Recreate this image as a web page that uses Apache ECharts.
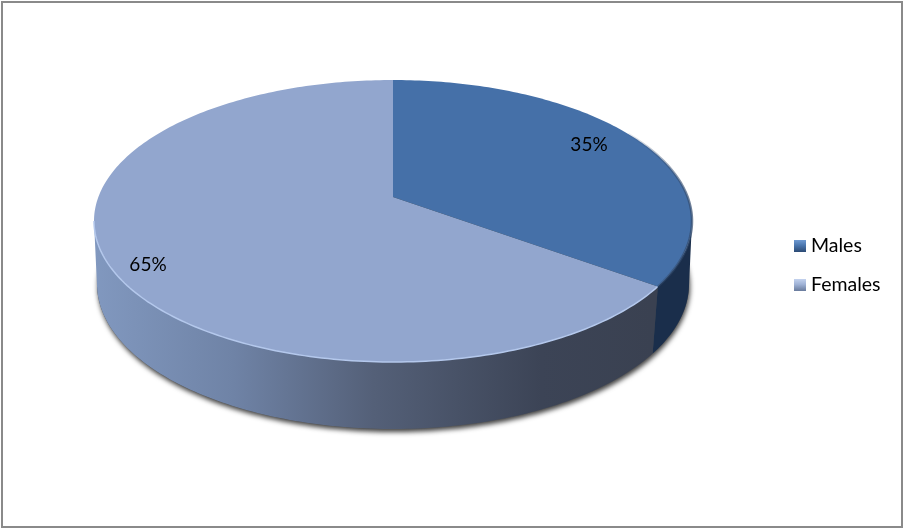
<!DOCTYPE html>
<html>
<head>
<meta charset="utf-8">
<style>html,body{margin:0;padding:0;background:#fff}#c{width:904px;height:529px}</style>
<script src="https://cdn.jsdelivr.net/npm/echarts@6/dist/echarts.min.js"></script>
</head>
<body>
<div id="c"></div>
<script>
var categories = ['Males', 'Females'];
var values = [35, 65];

var FONT = 'Lato';
var TOTAL = values[0] + values[1];
var CX = 393;
var TOP = {cy: 221, rx: 299, ry: 141, persp: 0.17};   // apex sits above the ellipse centre
var BOT = {cy: 284, rx: 296, ry: 145, persp: 0.15};
var SIDE_FROM = Math.acos(-TOP.persp) * 180 / Math.PI, SIDE_TO = 360 - SIDE_FROM;
var LABEL_AT = {Males: [589, 145], Females: [148, 265]};
var TOP_COLOR = {Males: '#4570a8', Females: '#92a6ce'};

function project(deg, e, r) {
  var t = deg * Math.PI / 180, k = r === undefined ? 1 : r, a = e.persp;
  var u = Math.sin(t) * k, v = -Math.cos(t) * k, w = 1 - a * v;
  return [CX + e.rx * Math.sqrt(1 - a * a) * u / w, e.cy + e.ry * (v - a) / w];
}
function arc(from, to, e) {
  var pts = [], n = Math.max(2, Math.ceil(Math.abs(to - from)));
  for (var i = 0; i <= n; i++) pts.push(project(from + (to - from) * i / n, e));
  return pts;
}
function range(i) {
  var s = 0;
  for (var j = 0; j < i; j++) s += values[j];
  return [s / TOTAL * 360, (s + values[i]) / TOTAL * 360];
}

function renderSlice(params, api) {
  var name = categories[api.value(0)], r = range(api.value(0)), kids = [];
  var sideA = Math.max(r[0], SIDE_FROM), sideB = Math.min(r[1], SIDE_TO);
  if (name === 'Females') {
    kids.push({type: 'polygon', shape: {points: arc(0, 360, BOT)}, z2: 1,
      style: {fill: '#555', shadowColor: 'rgba(0,0,0,0.75)', shadowBlur: 5, shadowOffsetX: 1, shadowOffsetY: 3}});
  }
  var side = arc(sideA, sideB, TOP).concat(arc(sideB, sideA, BOT));
  var x0 = CX - TOP.rx, x1 = project(r[0], BOT)[0];
  var fill = name === 'Males' ? '#1a2e4b' : new echarts.graphic.LinearGradient(x0, 0, x1, 0, [
    {offset: 0, color: '#8198bf'}, {offset: 0.25, color: '#6f83a6'},
    {offset: 0.5, color: '#546078'}, {offset: 0.8, color: '#3c4456'}, {offset: 1, color: '#3a4151'}
  ], true);
  kids.push({type: 'polygon', shape: {points: side}, z2: 2, style: {fill: fill}});
  var face = [project(0, TOP, 0)].concat(arc(r[0], r[1], TOP));
  kids.push({type: 'polygon', shape: {points: face}, z2: 3, style: {fill: TOP_COLOR[name]}});
  if (name === 'Females') {
    kids.push({type: 'polyline', shape: {points: arc(sideA, sideB, TOP)}, z2: 4,
      style: {fill: null, stroke: '#b4c8ec', lineWidth: 1.5}});
  } else {
    kids.push({type: 'polyline', shape: {points: arc(60, r[1], TOP)}, z2: 4, style: {
      fill: null, lineWidth: 2.5,
      stroke: new echarts.graphic.LinearGradient(620, 0, 690, 0, [
        {offset: 0, color: 'rgba(50,75,110,0)'}, {offset: 1, color: 'rgba(50,75,110,0.7)'}], true)
    }});
  }
  kids.push({type: 'text', z2: 5, style: {
    x: LABEL_AT[name][0], y: LABEL_AT[name][1], text: api.value(1) + '%',
    fill: '#000', font: '19px ' + FONT, textAlign: 'center', textVerticalAlign: 'middle'}});
  return {type: 'group', children: kids};
}

var chart = echarts.init(document.getElementById('c'), null, {renderer: 'canvas'});
function seriesFor(i, legendFill) {
  return {
    name: categories[i], type: 'custom', coordinateSystem: 'none', renderItem: renderSlice,
    data: [[i, values[i]]], itemStyle: {color: legendFill}, z: i === 1 ? 1 : 2, silent: true, animation: false
  };
}
chart.setOption({
  animation: false,
  backgroundColor: '#fff',
  legend: {
    orient: 'vertical', left: 789, top: 231, itemWidth: 12, itemHeight: 12, itemGap: 19, icon: 'rect',
    selectedMode: false, data: categories,
    textStyle: {fontFamily: FONT, fontSize: 19.5, color: '#000', padding: [0, 0, 0, 0], lineHeight: 19}
  },
  graphic: [{type: 'rect', shape: {x: 2, y: 2, width: 900, height: 525}, silent: true,
    style: {fill: null, stroke: '#8a8a8a', lineWidth: 2}}],
  series: [
    seriesFor(1, new echarts.graphic.LinearGradient(0, 0, 0, 1, [
      {offset: 0, color: '#c3d2ee'}, {offset: 0.45, color: '#9fb2d6'}, {offset: 1, color: '#687a9c'}])),
    seriesFor(0, new echarts.graphic.LinearGradient(0, 0, 0, 1, [
      {offset: 0, color: '#6f9ad2'}, {offset: 0.45, color: '#4a76ae'}, {offset: 1, color: '#2c4a74'}]))
  ]
});
</script>
</body>
</html>
